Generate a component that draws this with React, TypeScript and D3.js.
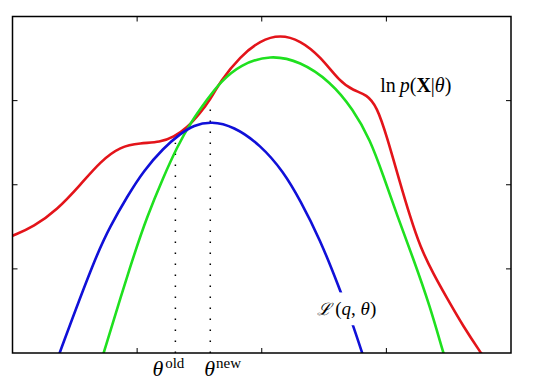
import * as d3 from "d3";
import React from "react";

// curve samples: [theta, value]
const logLik: [number, number][] = [
  [0, 1.393], [0.171, 1.504], [0.358, 1.702], [0.545, 2.0], [0.705, 2.277],
  [0.866, 2.456], [1.026, 2.496], [1.186, 2.504], [1.293, 2.568], [1.4, 2.675],
  [1.507, 2.854], [1.587, 3.012], [1.667, 3.23], [1.828, 3.527], [1.988, 3.716],
  [2.148, 3.785], [2.309, 3.716], [2.469, 3.527], [2.629, 3.221], [2.736, 3.121],
  [2.843, 3.071], [2.923, 2.932], [3.004, 2.575], [3.11, 2.02], [3.19, 1.623],
  [3.271, 1.262], [3.377, 0.94], [3.485, 0.655], [3.618, 0.313], [3.752, 0.015],
  [3.83, -0.15],
];

const boundOld: [number, number][] = [
  [0.33, -0.2], [0.377, 0.0], [0.665, 1.143], [0.786, 1.512], [0.919, 1.857],
  [1.052, 2.167], [1.213, 2.44], [1.347, 2.607], [1.453, 2.708], [1.595, 2.754],
  [1.774, 2.696], [1.988, 2.476], [2.175, 2.155], [2.309, 1.815], [2.469, 1.345],
  [2.616, 0.798], [2.724, 0.369], [2.806, 0.0], [2.85, -0.2],
];

const boundNew: [number, number][] = [
  [0.69, -0.2], [0.731, 0.0], [0.96, 1.107], [1.08, 1.623], [1.213, 2.099],
  [1.32, 2.446], [1.427, 2.735], [1.561, 3.012], [1.667, 3.22], [1.828, 3.429],
  [2.068, 3.546], [2.309, 3.468], [2.549, 3.23], [2.736, 2.893], [2.87, 2.536],
  [2.976, 2.107], [3.084, 1.643], [3.217, 1.119], [3.351, 0.551], [3.457, 0.0],
  [3.5, -0.2],
];

const thetaOld = 1.307;
const thetaNew = 1.587;
const dropOld = 2.5;
const dropNew = 3.012;
const ticks = [1, 2, 3];

const W = 542;
const H = 388;
const left = 12.5;
const right = 511;
const top = 16.5;
const bottom = 353;

const serif = "'Liberation Serif', 'DejaVu Serif', serif";

export default function App() {
  const x = d3.scaleLinear().domain([0, 4]).range([left, right]);
  const y = d3.scaleLinear().domain([0, 4]).range([bottom, top]);

  const line = d3
    .line<[number, number]>()
    .x((d) => x(d[0]))
    .y((d) => y(d[1]))
    .curve(d3.curveBasis);

  const curves = [
    { data: logLik, color: "#e3141a" },
    { data: boundNew, color: "#1fe01f" },
    { data: boundOld, color: "#1010d8" },
  ];

  return (
    <svg
      width={W}
      height={H}
      style={{ position: "absolute", left: 0, top: 0, background: "#fff" }}
    >
      <defs>
        <clipPath id="plot">
          <rect x={left} y={top} width={right - left} height={bottom - top} />
        </clipPath>
      </defs>

      {/* dotted guides */}
      {[
        [thetaOld, dropOld],
        [thetaNew, dropNew],
      ].map(([t, v], i) => (
        <line
          key={i}
          x1={x(t)}
          x2={x(t)}
          y1={y(0)}
          y2={y(v)}
          stroke="#000"
          strokeWidth={1.5}
          strokeDasharray="1.5 9.5"
        />
      ))}

      <g clipPath="url(#plot)">
        {curves.map((c, i) => (
          <path
            key={i}
            d={line(c.data) ?? ""}
            fill="none"
            stroke={c.color}
            strokeWidth={2.6}
          />
        ))}
      </g>

      {/* label for the bound hides the blue line behind it */}
      <rect x={x(2.43)} y={y(0.72)} width={64} height={y(0.33) - y(0.72)} fill="#fff" />
      <text x={x(2.445)} y={y(0.455)} fontFamily={serif} fontSize={19} fill="#000">
        <tspan fontFamily="'DejaVu Serif', serif" fontStyle="italic" fontSize={17}>ℒ</tspan>
        <tspan dx={4}>(</tspan>
        <tspan fontStyle="italic">q</tspan>
        <tspan>, </tspan>
        <tspan fontStyle="italic">θ</tspan>
        <tspan>)</tspan>
      </text>

      <text x={x(2.95)} y={y(3.1)} fontFamily={serif} fontSize={20} fill="#000">
        <tspan>ln</tspan>
        <tspan dx={4} fontStyle="italic">p</tspan>
        <tspan>(</tspan>
        <tspan fontWeight="bold">X</tspan>
        <tspan>|</tspan>
        <tspan fontStyle="italic">θ</tspan>
        <tspan>)</tspan>
      </text>

      {/* frame */}
      <rect
        x={left}
        y={top}
        width={right - left}
        height={bottom - top}
        fill="none"
        stroke="#000"
        strokeWidth={1.5}
      />
      {ticks.map((t) => (
        <g key={t} stroke="#000" strokeWidth={1}>
          <line x1={x(t)} x2={x(t)} y1={bottom} y2={bottom - 5} />
          <line x1={x(t)} x2={x(t)} y1={top} y2={top + 5} />
          <line x1={left} x2={left + 5} y1={y(t)} y2={y(t)} />
          <line x1={right} x2={right - 5} y1={y(t)} y2={y(t)} />
        </g>
      ))}

      {/* theta labels */}
      <text x={x(thetaOld) - 23} y={376} fontFamily={serif} fontSize={22} fill="#000">
        <tspan fontStyle="italic">θ</tspan>
        <tspan dx={2} dy={-8} fontSize={15}>old</tspan>
      </text>
      <text x={x(thetaNew) - 6} y={376} fontFamily={serif} fontSize={22} fill="#000">
        <tspan fontStyle="italic">θ</tspan>
        <tspan dx={1} dy={-8} fontSize={15}>new</tspan>
      </text>
    </svg>
  );
}
